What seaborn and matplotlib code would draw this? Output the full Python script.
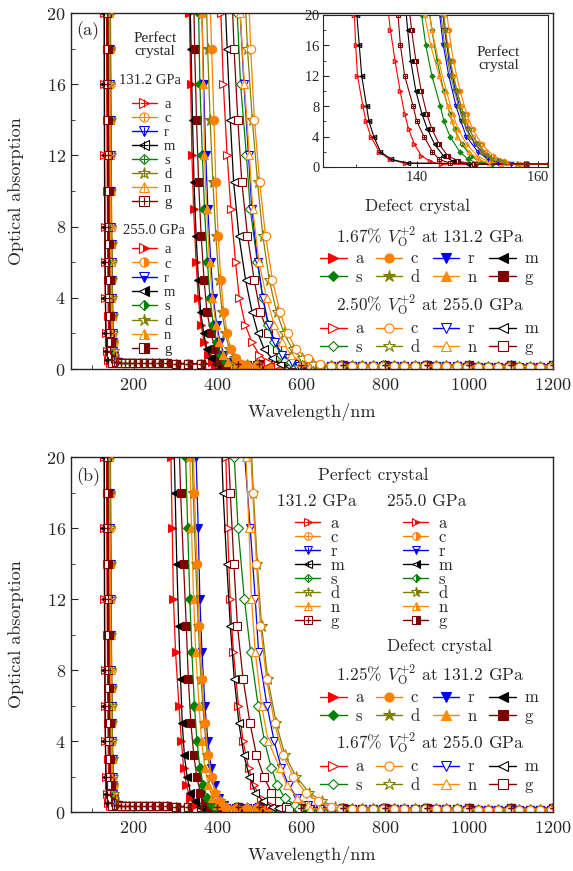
import numpy as np
import pandas as pd
import seaborn as sns
import matplotlib.pyplot as plt
from matplotlib.lines import Line2D
from matplotlib.legend import Legend
from matplotlib.ticker import MultipleLocator

# ---------------- data ----------------
KEYS = ["a", "c", "r", "m", "s", "d", "n", "g"]
COLORS = ["#ff0000", "#ff8000", "#0000ff", "#000000", "#008000", "#808000", "#ff8c00", "#800000"]
MARKERS = [">", "o", "v", "<", "D", "*", "^", "s"]

# perfect crystal: wavelength (nm) where each curve reaches the listed absorption
PERF131_ABS = [24, 20, 16, 12, 8, 6, 4, 2, 1, 0.5]
PERF131_NM = [
    [129.2, 129.7, 129.9, 130.2, 131.1, 131.6, 132.4, 133.8, 135.5, 138.0],
    [144.0, 144.5, 145.1, 146.0, 147.3, 148.2, 149.3, 151.2, 153.0, 155.0],
    [143.4, 143.8, 144.4, 145.3, 146.5, 147.3, 148.2, 150.1, 151.8, 153.5],
    [129.6, 130.1, 130.5, 130.9, 131.7, 132.1, 132.9, 134.0, 135.8, 138.5],
    [140.3, 140.8, 141.5, 142.5, 143.9, 144.5, 145.5, 147.1, 148.5, 150.0],
    [143.6, 144.0, 144.6, 145.6, 146.9, 147.7, 148.7, 150.6, 152.2, 154.5],
    [140.9, 141.3, 142.3, 143.7, 145.1, 145.8, 146.7, 148.6, 150.2, 152.0],
    [136.5, 136.9, 137.3, 138.0, 139.4, 140.0, 141.2, 142.6, 143.7, 145.5],
]
PERF255_ABS = [22, 18, 14, 10, 7, 5, 3, 1.5, 0.75, 0.35]
PERF255_NM = [
    [135.05, 135.65, 136.4, 137.25, 138.0, 138.65, 139.6, 140.75, 142.15, 144.0],
    [144.75, 145.3, 146.05, 147.15, 148.25, 149.25, 150.75, 152.6, 154.5, 157.0],
    [144.1, 144.6, 145.35, 146.4, 147.4, 148.25, 149.65, 151.45, 153.15, 155.5],
    [138.05, 138.5, 139.0, 139.85, 140.85, 141.75, 142.95, 144.35, 146.0, 148.5],
    [141.85, 142.5, 143.35, 144.45, 145.45, 146.25, 147.45, 148.9, 150.3, 152.5],
    [144.2, 144.7, 145.5, 146.65, 147.7, 148.6, 150.05, 151.8, 153.8, 156.5],
    [141.8, 142.5, 143.6, 144.9, 145.95, 146.8, 148.25, 150.0, 151.7, 154.0],
    [138.6, 139.15, 139.85, 140.75, 141.65, 142.5, 143.7, 145.1, 146.9, 149.5],
]
PERF_TAIL_NM = [158, 162, 170, 180, 190, 200, 215, 230, 245, 260, 280, 300, 330, 360,
                400, 450, 500, 600, 700, 800, 900, 1000, 1100, 1200]
PERF_TAIL_ABS = [0.40, 0.38, 0.36, 0.35, 0.35, 0.34, 0.34, 0.33, 0.33, 0.32, 0.32, 0.31,
                 0.30, 0.30, 0.29, 0.28, 0.27, 0.25, 0.24, 0.23, 0.22, 0.21, 0.20, 0.20]

# defect crystal: curves a, r, s, n read at DEF_ABS_1; c, m, d, g read at DEF_ABS_2
DEF_ABS_1 = [24, 20, 16, 12, 9, 6, 4, 2.5, 1.5, 0.8, 0.4]
DEF_ABS_2 = [22, 18, 14, 10.5, 7.5, 5, 3.2, 2, 1.1, 0.6, 0.3]
DEF_LEVELS = [DEF_ABS_1, DEF_ABS_2, DEF_ABS_1, DEF_ABS_2, DEF_ABS_1, DEF_ABS_2, DEF_ABS_1, DEF_ABS_2]
A_FILLED_NM = [
    [330, 333, 336, 339, 343, 349, 354, 361, 368, 377, 388],
    [380.5, 386, 391.5, 396, 401.5, 408, 415, 423, 432, 443.5, 457],
    [360, 363, 367, 372, 377, 384, 390, 398, 406, 416, 428],
    [333.5, 337, 340.5, 344, 349, 354.5, 360, 367, 375, 384.5, 396],
    [352, 355, 358, 364, 369, 376, 382, 390, 398, 408, 420],
    [372, 376.5, 382.5, 389, 396, 403.5, 411, 419, 428, 439, 451],
    [360, 363, 366, 369, 374, 381, 388, 396, 404, 414, 426],
    [342.5, 345.5, 350, 355, 361, 368, 375, 384.5, 395, 406, 418],
]
A_OPEN_NM = [
    [403, 408, 414, 423, 432, 443, 452, 466, 482, 500, 520],
    [473, 479, 488, 500.5, 514.5, 531, 549, 567, 588, 615, 645],
    [448, 454, 463, 474, 482, 496, 508, 522, 537, 555, 578],
    [416, 423, 430.5, 438.5, 451, 467, 482.5, 496.5, 511.5, 530, 550],
    [440, 447, 455, 469, 478, 495, 508, 520, 535, 552, 575],
    [463.5, 471.5, 483, 495.5, 508, 523.5, 541, 559, 579, 602.5, 628],
    [448, 454, 464, 476, 484, 499, 517, 535, 555, 575, 600],
    [433, 439.5, 448.5, 458, 471.5, 487.5, 502, 521, 541, 561, 583],
]
B_FILLED_NM = [
    [286, 289, 292, 295, 300, 308, 314, 319, 326, 335, 348],
    [340, 345, 351, 357, 363.5, 370.5, 378, 386, 395, 406, 418],
    [345, 349, 354, 358, 363, 370, 377, 385, 393, 403, 416],
    [295, 299, 303, 307.5, 312, 316, 321, 327.5, 335.5, 346, 358],
    [320, 324, 329, 334, 339, 345, 351, 358, 366, 376, 388],
    [337.5, 342, 348, 354, 360.5, 368, 376, 385, 395, 407, 421],
    [330, 334, 338, 343, 348, 356, 362, 370, 378, 388, 400],
    [307, 312, 319, 325.5, 330.5, 336.5, 343.5, 350.5, 359, 370, 382],
]
B_OPEN_NM = [
    [415, 420, 424, 430, 438, 450, 461, 474, 487, 503, 525],
    [475.5, 484, 493, 502.5, 517, 536, 556.5, 581, 610, 640, 670],
    [458, 465, 478, 490, 498, 518, 535, 552, 570, 590, 615],
    [407.5, 413.5, 422, 430.5, 440, 451, 463, 476, 490, 509, 531],
    [433, 440, 449, 464, 479, 497, 512, 528, 543, 560, 585],
    [478, 485.5, 495, 505, 520, 540, 561, 587, 618.5, 650, 680],
    [462, 468, 475, 481, 490, 505, 521, 548, 566, 590, 615],
    [423, 430.5, 439, 447.5, 461, 477.5, 493, 510.5, 528.5, 546, 564],
]
DEF_TAIL_NM = [320, 345, 370, 395, 420, 445, 470, 495, 520, 545, 570, 595, 620, 645, 670,
               695, 720, 745, 770, 795, 820, 845, 870, 895, 920, 945, 970, 995, 1020,
               1045, 1070, 1095, 1120, 1145, 1170, 1195]
DEF_TAIL_ABS = [0.28, 0.27, 0.26, 0.25, 0.24, 0.23, 0.22, 0.21, 0.20, 0.20, 0.19, 0.19,
                0.18, 0.18, 0.18, 0.17, 0.17, 0.17, 0.16, 0.16, 0.16, 0.16, 0.15, 0.15,
                0.15, 0.15, 0.15, 0.14, 0.14, 0.14, 0.14, 0.14, 0.14, 0.13, 0.13, 0.13]

# ---------------- style ----------------
sns.set_style("ticks")
plt.rcParams["font.family"] = ["cmr10", "DejaVu Serif"]
plt.rcParams["mathtext.fontset"] = "cm"
plt.rcParams["axes.formatter.use_mathtext"] = True
plt.rcParams["axes.unicode_minus"] = False
TIMES = "Liberation Serif"
ROW_ORDER = [0, 4, 1, 5, 2, 6, 3, 7]  # so a 4-column legend reads a c r m / s d n g


def marker_kw(i, style, ms):
    col = COLORS[i]
    mk = MARKERS[i]
    size = ms * (0.8 if mk == "D" else 1.35 if mk == "*" else 1.0)
    kw = dict(color=col, marker=mk, markersize=size, markeredgecolor=col, markeredgewidth=0.8)
    if style == "filled":
        kw["markerfacecolor"] = col
    elif style in ("open", "cross"):
        kw["markerfacecolor"] = "white"
    elif style == "half":
        kw["markerfacecolor"] = col
        kw["fillstyle"] = "bottom" if mk == "v" else "right"
        kw["markerfacecoloralt"] = "white"
    return kw


def draw_curve(ax, xs, ys, tail_x, tail_y, i, style, ms, lw=0.9):
    x = list(xs) + [t for t in tail_x if t > xs[-1]]
    y = list(ys) + [v for t, v in zip(tail_x, tail_y) if t > xs[-1]]
    df = pd.DataFrame({"nm": x, "abs": y})
    kw = marker_kw(i, style, ms)
    sns.lineplot(data=df, x="nm", y="abs", ax=ax, estimator=None, sort=False,
                 legend=False, lw=lw, **kw)
    if style == "cross":
        sns.scatterplot(data=df, x="nm", y="abs", ax=ax, marker="+", color=COLORS[i],
                        s=(ms * 0.9) ** 2, linewidth=0.8, legend=False, zorder=3)


def handle(i, style, ms):
    kw = marker_kw(i, style, ms)
    ln = Line2D([], [], lw=1.0, **kw)
    if style == "cross":
        return (ln, Line2D([], [], ls="none", marker="+", color=COLORS[i],
                           markersize=ms * 0.9, markeredgewidth=0.8))
    return ln


def add_legend(ax, handles, labels, anchor, ncol=1, size=12, family="cmr10",
               labelspacing=0.0, columnspacing=0.75, handlelength=1.6, handletextpad=0.5):
    leg = Legend(ax, handles, labels, loc="upper left", bbox_to_anchor=anchor, ncol=ncol,
                 frameon=False, borderpad=0, borderaxespad=0, handlelength=handlelength,
                 handletextpad=handletextpad, labelspacing=labelspacing,
                 columnspacing=columnspacing, prop={"family": family, "size": size})
    ax.add_artist(leg)


def style_axes(ax):
    ax.set_xlim(50, 1200)
    ax.set_ylim(0, 20)
    ax.xaxis.set_major_locator(MultipleLocator(200))
    ax.xaxis.set_minor_locator(MultipleLocator(100))
    ax.yaxis.set_major_locator(MultipleLocator(4))
    ax.yaxis.set_minor_locator(MultipleLocator(2))
    ax.tick_params(which="both", direction="in", labelsize=13)
    ax.tick_params(which="major", length=5)
    ax.tick_params(which="minor", length=3)
    ax.tick_params(axis="x", pad=6)
    ax.set_xlabel("Wavelength/nm", fontsize=13, labelpad=7)
    ax.set_ylabel("Optical absorption", fontsize=13, labelpad=16)
    for sp in ax.spines.values():
        sp.set_linewidth(1.0)


fig = plt.figure(figsize=(5.73, 8.71), dpi=100)
ax_a = fig.add_axes([0.1234, 0.5763, 0.8417, 0.4087])
ax_b = fig.add_axes([0.1234, 0.0677, 0.8417, 0.4076])
ax_in = fig.add_axes([0.5637, 0.8083, 0.3927, 0.1745])


def fa(px, py):
    return ((px - 70.7) / 482.3, (369 - py) / 356)


def fb(px, py):
    return ((px - 70.7) / 482.3, (812 - py) / 355)


for ax, filled, opened in [(ax_a, A_FILLED_NM, A_OPEN_NM), (ax_b, B_FILLED_NM, B_OPEN_NM)]:
    for i in range(8):
        draw_curve(ax, PERF131_NM[i], PERF131_ABS, PERF_TAIL_NM, PERF_TAIL_ABS, i, "cross", 5.5)
        draw_curve(ax, PERF255_NM[i], PERF255_ABS, PERF_TAIL_NM, PERF_TAIL_ABS, i, "half", 5.5)
    for i in [0, 3, 7, 4, 2, 6, 5, 1]:
        draw_curve(ax, filled[i], DEF_LEVELS[i], DEF_TAIL_NM, DEF_TAIL_ABS, i, "filled", 6)
    for i in [0, 3, 7, 4, 2, 6, 5, 1]:
        draw_curve(ax, opened[i], DEF_LEVELS[i], DEF_TAIL_NM, DEF_TAIL_ABS, i, "open", 6)
    style_axes(ax)

# inset: perfect crystal close-up
for i in range(8):
    draw_curve(ax_in, PERF131_NM[i], PERF131_ABS, PERF_TAIL_NM, PERF_TAIL_ABS, i, "cross", 3.2, lw=0.8)
    draw_curve(ax_in, PERF255_NM[i], PERF255_ABS, PERF_TAIL_NM, PERF_TAIL_ABS, i, "half", 3.2, lw=0.8)
ax_in.set_xlim(124.5, 161.7)
ax_in.set_ylim(0, 20)
ax_in.xaxis.set_major_locator(MultipleLocator(20))
ax_in.xaxis.set_minor_locator(MultipleLocator(10))
ax_in.yaxis.set_major_locator(MultipleLocator(4))
ax_in.yaxis.set_minor_locator(MultipleLocator(2))
ax_in.tick_params(which="both", direction="in", labelsize=10.5, pad=2)
ax_in.tick_params(which="major", length=4)
ax_in.tick_params(which="minor", length=2)
for lab in ax_in.get_xticklabels() + ax_in.get_yticklabels():
    lab.set_family(TIMES)
ax_in.set_xlabel("")
ax_in.set_ylabel("")
ax_in.text(0.78, 0.71, "Perfect\ncrystal", transform=ax_in.transAxes, ha="center",
           va="center", family=TIMES, fontsize=11, linespacing=1.05)

# ---------------- panel (a) annotations ----------------
ax_a.text(*fa(88, 31), "(a)", transform=ax_a.transAxes, ha="center", va="center", fontsize=13)
ax_a.text(*fa(155, 45), "Perfect\ncrystal", transform=ax_a.transAxes, ha="center",
          va="center", family=TIMES, fontsize=11, linespacing=1.05)
ax_a.text(*fa(150, 80), "131.2 GPa", transform=ax_a.transAxes, ha="center", va="center",
          family=TIMES, fontsize=10.5)
ax_a.text(*fa(154, 230), "255.0 GPa", transform=ax_a.transAxes, ha="center", va="center",
          family=TIMES, fontsize=10.5)
add_legend(ax_a, [handle(i, "cross", 6.5) for i in range(8)], KEYS, fa(132, 98),
           size=10.5, family=TIMES, labelspacing=0.05, handlelength=1.7, handletextpad=0.5)
add_legend(ax_a, [handle(i, "half", 6.5) for i in range(8)], KEYS, fa(132, 243),
           size=10.5, family=TIMES, labelspacing=0.075, handlelength=1.7, handletextpad=0.5)

ax_a.text(*fa(418, 206), "Defect crystal", transform=ax_a.transAxes, ha="center",
          va="center", fontsize=12.5)
ax_a.text(*fa(430, 237), r"1.67% $V_{\rm O}^{+2}$ at 131.2 GPa", transform=ax_a.transAxes,
          ha="center", va="center", fontsize=12.5)
ax_a.text(*fa(430, 305), r"2.50% $V_{\rm O}^{+2}$ at 255.0 GPa", transform=ax_a.transAxes,
          ha="center", va="center", fontsize=12.5)
add_legend(ax_a, [handle(i, "filled", 6.5) for i in ROW_ORDER], [KEYS[i] for i in ROW_ORDER],
           fa(320, 251), ncol=4, size=12, labelspacing=0.19)
add_legend(ax_a, [handle(i, "open", 6.5) for i in ROW_ORDER], [KEYS[i] for i in ROW_ORDER],
           fa(320, 321), ncol=4, size=12, labelspacing=0.19)

# ---------------- panel (b) annotations ----------------
ax_b.text(*fb(88, 477), "(b)", transform=ax_b.transAxes, ha="center", va="center", fontsize=13)
ax_b.text(*fb(373, 475), "Perfect crystal", transform=ax_b.transAxes, ha="center",
          va="center", fontsize=12.5)
ax_b.text(*fb(317, 501), "131.2 GPa", transform=ax_b.transAxes, ha="center", va="center",
          fontsize=12.5)
ax_b.text(*fb(427, 501), "255.0 GPa", transform=ax_b.transAxes, ha="center", va="center",
          fontsize=12.5)
add_legend(ax_b, [handle(i, "cross", 5.5) for i in range(8)], KEYS, fb(295, 516),
           size=12, labelspacing=-0.08, handlelength=1.5, handletextpad=0.65)
add_legend(ax_b, [handle(i, "half", 5.5) for i in range(8)], KEYS, fb(403, 516),
           size=12, labelspacing=-0.08, handlelength=1.5, handletextpad=0.65)

ax_b.text(*fb(440, 646), "Defect crystal", transform=ax_b.transAxes, ha="center",
          va="center", fontsize=12.5)
ax_b.text(*fb(430, 675), r"1.25% $V_{\rm O}^{+2}$ at 131.2 GPa", transform=ax_b.transAxes,
          ha="center", va="center", fontsize=12.5)
ax_b.text(*fb(430, 743), r"1.67% $V_{\rm O}^{+2}$ at 255.0 GPa", transform=ax_b.transAxes,
          ha="center", va="center", fontsize=12.5)
add_legend(ax_b, [handle(i, "filled", 6.5) for i in ROW_ORDER], [KEYS[i] for i in ROW_ORDER],
           fb(320, 690), ncol=4, size=12, labelspacing=0.19)
add_legend(ax_b, [handle(i, "open", 6.5) for i in ROW_ORDER], [KEYS[i] for i in ROW_ORDER],
           fb(320, 759), ncol=4, size=12, labelspacing=0.19)

fig.savefig("out.png", dpi=100)
